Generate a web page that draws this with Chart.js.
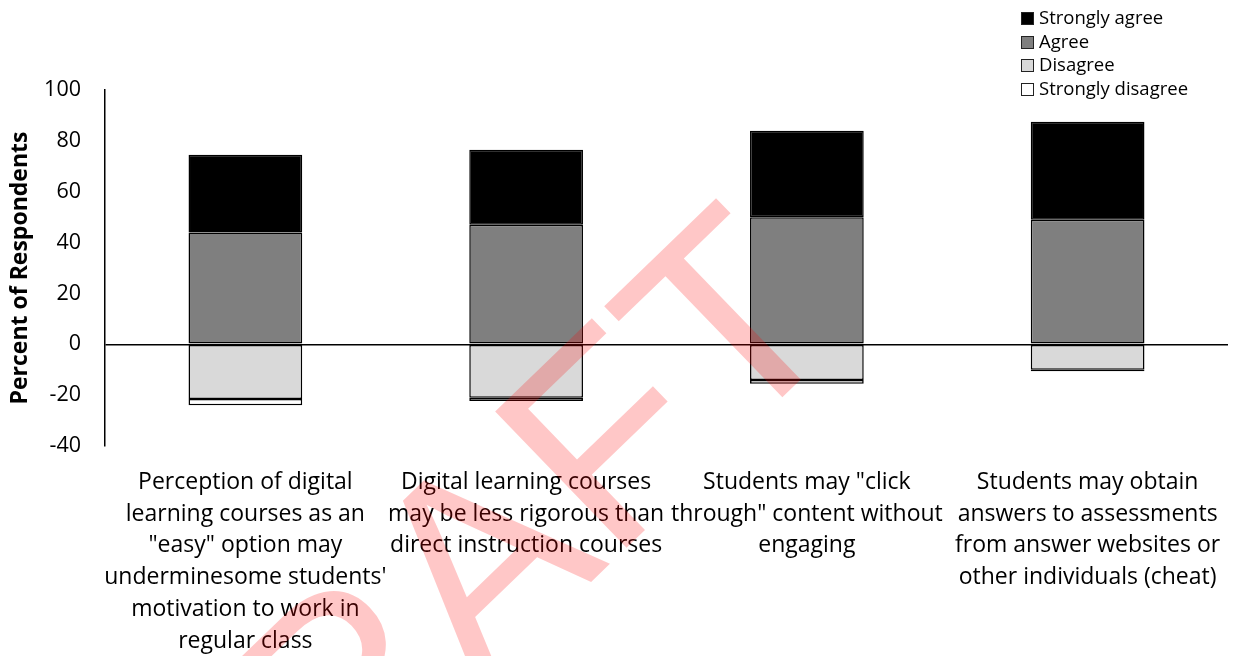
<!DOCTYPE html>
<html>
<head>
<meta charset="utf-8">
<script src="https://cdn.jsdelivr.net/npm/chart.js@4/dist/chart.umd.min.js"></script>
<style>
  html, body { margin: 0; padding: 0; background: #fff; }
  #wrap { position: relative; width: 1233px; height: 656px; }
  #legend { position: absolute; left: 1021px; top: 5px; font-family: "Open Sans", sans-serif; font-size: 18.5px; color: #000; }
  #legend div { height: 23.7px; line-height: 23.7px; white-space: nowrap; }
  #legend span.box { display: inline-block; width: 11px; height: 11px; border: 1px solid #222; margin-right: 5px; vertical-align: -1px; }
</style>
</head>
<body>
<div id="wrap">
  <canvas id="likertChart"></canvas>
  <div id="legend"></div>
</div>
<script>
  // values (percent of respondents)
  var categories = [
    ['Perception of digital', 'learning courses as an', '"easy" option may', "underminesome students'", 'motivation to work in', 'regular class'],
    ['Digital learning courses', 'may be less rigorous than', 'direct instruction courses'],
    ['Students may "click', 'through" content without', 'engaging'],
    ['Students may obtain', 'answers to assessments', 'from answer websites or', 'other individuals (cheat)']
  ];
  var stronglyAgree = [30.5, 29.5, 34, 38.5];
  var agree = [44, 47, 50, 49];
  var disagree = [-21.5, -21, -14, -10];
  var stronglyDisagree = [-2.5, -1.3, -1.5, -0.6];
  var yTicks = { min: -40, max: 100, step: 20 };

  var FONT = '"Open Sans", sans-serif';

  function barSet(label, data, color) {
    return {
      label: label,
      data: data,
      backgroundColor: color,
      borderColor: '#000',
      borderWidth: 1.5,
      borderSkipped: false,
      categoryPercentage: 1,
      barPercentage: 0.405
    };
  }

  // stacking order: closest to zero first
  var datasets = [
    barSet('Agree', agree, '#7f7f7f'),
    barSet('Strongly agree', stronglyAgree, '#000000'),
    barSet('Disagree', disagree, '#d9d9d9'),
    barSet('Strongly disagree', stronglyDisagree, '#ffffff')
  ];

  // legend in reference order
  var legendOrder = [1, 0, 2, 3];
  var legendEl = document.getElementById('legend');
  legendOrder.forEach(function (i) {
    var row = document.createElement('div');
    var box = document.createElement('span');
    box.className = 'box';
    box.style.background = datasets[i].backgroundColor;
    row.appendChild(box);
    row.appendChild(document.createTextNode(datasets[i].label));
    legendEl.appendChild(row);
  });

  var watermark = {
    id: 'watermark',
    afterDraw: function (chart) {
      var c = chart.ctx;
      c.save();
      c.translate(852, 330);
      c.rotate(-44 * Math.PI / 180);
      c.font = '275px "Liberation Sans", sans-serif';
      c.textAlign = 'right';
      c.textBaseline = 'alphabetic';
      c.fillStyle = 'rgba(255, 0, 0, 0.22)';
      c.fillText('DRAFT', 0, 0);
      c.restore();
    }
  };

  new Chart(document.getElementById('likertChart'), {
    type: 'bar',
    data: { labels: categories, datasets: datasets },
    plugins: [watermark],
    options: {
      responsive: true,
      maintainAspectRatio: false,
      animation: false,
      layout: { padding: { top: 90, right: 5, bottom: 0, left: 0 } },
      plugins: {
        legend: { display: false },
        tooltip: { enabled: false }
      },
      scales: {
        x: {
          stacked: true,
          grid: { display: false, drawTicks: false },
          border: { display: false },
          ticks: {
            color: '#000',
            padding: 20,
            maxRotation: 0,
            autoSkip: false,
            font: { family: FONT, size: 23, lineHeight: 1.39 }
          },
          afterFit: function (s) {
            s.height = 210;
            s.paddingLeft = 0;
            s.paddingRight = 0;
          }
        },
        y: {
          stacked: true,
          min: yTicks.min,
          max: yTicks.max,
          grid: {
            drawTicks: false,
            color: function (ctx) { return ctx.tick && ctx.tick.value === 0 ? '#000' : 'rgba(0,0,0,0)'; },
            lineWidth: 1.5
          },
          border: { display: true, color: '#000', width: 1.5 },
          ticks: {
            stepSize: yTicks.step,
            color: '#000',
            padding: 24,
            font: { family: FONT, size: 21.5 }
          },
          title: {
            display: true,
            text: 'Percent of Respondents',
            color: '#000',
            padding: { top: 7, bottom: 0 },
            font: { family: FONT, size: 23, weight: 'bold' }
          },
          afterFit: function (s) { s.width = 105; }
        }
      }
    }
  });
</script>
</body>
</html>
